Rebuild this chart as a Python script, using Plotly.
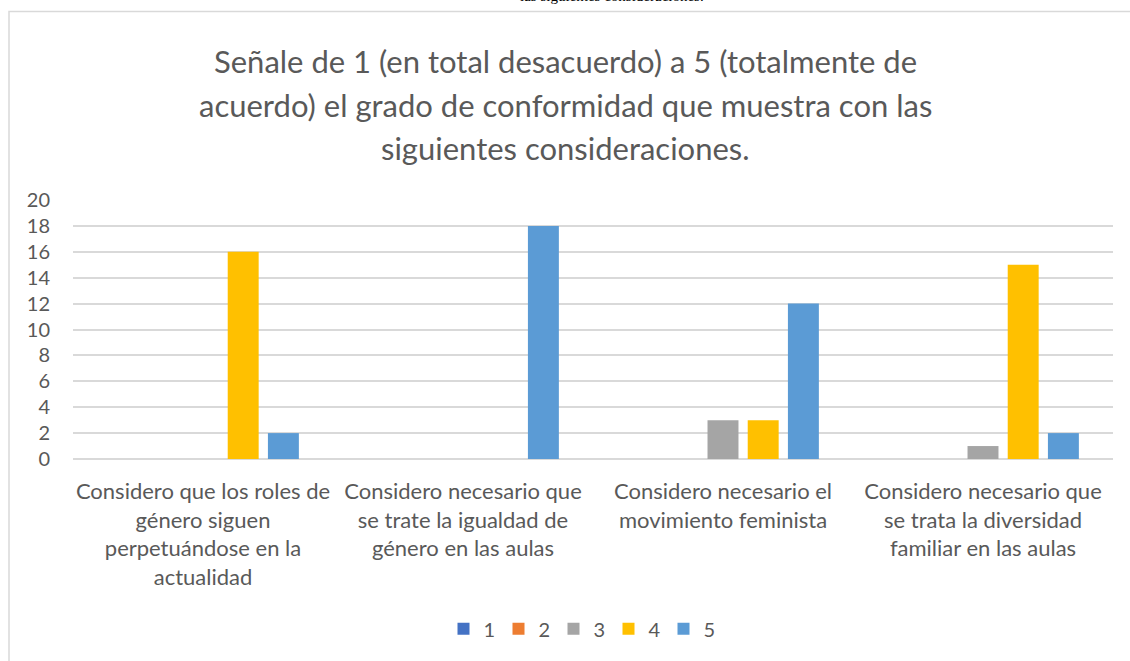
import plotly.graph_objects as go

categories = [
    "Considero que los roles de<br>género siguen<br>perpetuándose en la<br>actualidad",
    "Considero necesario que<br>se trate la igualdad de<br>género en las aulas",
    "Considero necesario el<br>movimiento feminista",
    "Considero necesario que<br>se trata la diversidad<br>familiar en las aulas",
]
series_names = ["1", "2", "3", "4", "5"]
s1 = [0, 0, 0, 0]
s2 = [0, 0, 0, 0]
s3 = [0, 0, 3, 1]
s4 = [16, 0, 3, 15]
s5 = [2, 18, 12, 2]
series_values = [s1, s2, s3, s4, s5]
colors = ["#4472C4", "#ED7D31", "#A5A5A5", "#FFC000", "#5B9BD5"]

title_lines = [
    "Señale de 1 (en total desacuerdo) a 5 (totalmente de",
    "acuerdo) el grado de conformidad que muestra con las",
    "siguientes consideraciones.",
]

W, H = 1130, 661
L, R, T, B = 73, 17, 200, 200
pw, ph = W - L - R, H - T - B

def px_x(x):
    return (x - L) / pw

def px_y(y):
    return (H - B - y) / ph

fig = go.Figure()
for name, vals, col in zip(series_names, series_values, colors):
    fig.add_trace(go.Bar(x=categories, y=vals, name=name, marker_color=col,
                         marker_line_width=0))

annotations = [dict(text="las siguientes consideraciones.", xref="paper",
                    yref="paper", x=px_x(612), y=px_y(-6), xanchor="center",
                    yanchor="middle", showarrow=False,
                    font=dict(family="Liberation Serif, serif", size=15,
                              color="#000000"))]
for line, yc in zip(title_lines, [60, 104, 148]):
    annotations.append(dict(text=line, xref="paper", yref="paper",
                            x=px_x(W / 2), y=px_y(yc), xanchor="center",
                            yanchor="middle", showarrow=False,
                            font=dict(size=31, color="#595959")))

fig.update_layout(
    width=W, height=H,
    margin=dict(l=L, r=R, t=T, b=B),
    paper_bgcolor="white", plot_bgcolor="white",
    barmode="group", bargap=0.227, bargroupgap=0.23,
    font=dict(family="Lato, Open Sans, sans-serif", color="#595959"),
    showlegend=True,
    legend=dict(orientation="h", x=px_x(581), xanchor="center",
                y=px_y(632), yanchor="middle",
                font=dict(size=20, color="#595959"),
                entrywidth=10, entrywidthmode="pixels",
                traceorder="normal"),
    yaxis=dict(range=[0, 20], dtick=2, showgrid=True, gridcolor="#D9D9D9",
               gridwidth=1.5, zeroline=True, zerolinecolor="#D9D9D9",
               zerolinewidth=1.5, showline=False, ticks="",
               tickfont=dict(size=20, color="#595959"),
               ticklabelstandoff=22, fixedrange=True),
    xaxis=dict(showgrid=False, showline=False, ticks="",
               tickfont=dict(size=22, color="#595959"),
               ticklabelstandoff=17, tickangle=0),
    shapes=[dict(type="rect", xref="paper", yref="paper",
                 x0=px_x(9), x1=px_x(W + 20), y0=px_y(H + 20), y1=px_y(10),
                 line=dict(color="#D9D9D9", width=1.5), fillcolor="rgba(0,0,0,0)",
                 layer="below")],
    annotations=annotations,
)

fig.write_html("out.html", config={"displayModeBar": False},
               post_script="document.body.style.margin='0';document.body.style.overflow='hidden';")
